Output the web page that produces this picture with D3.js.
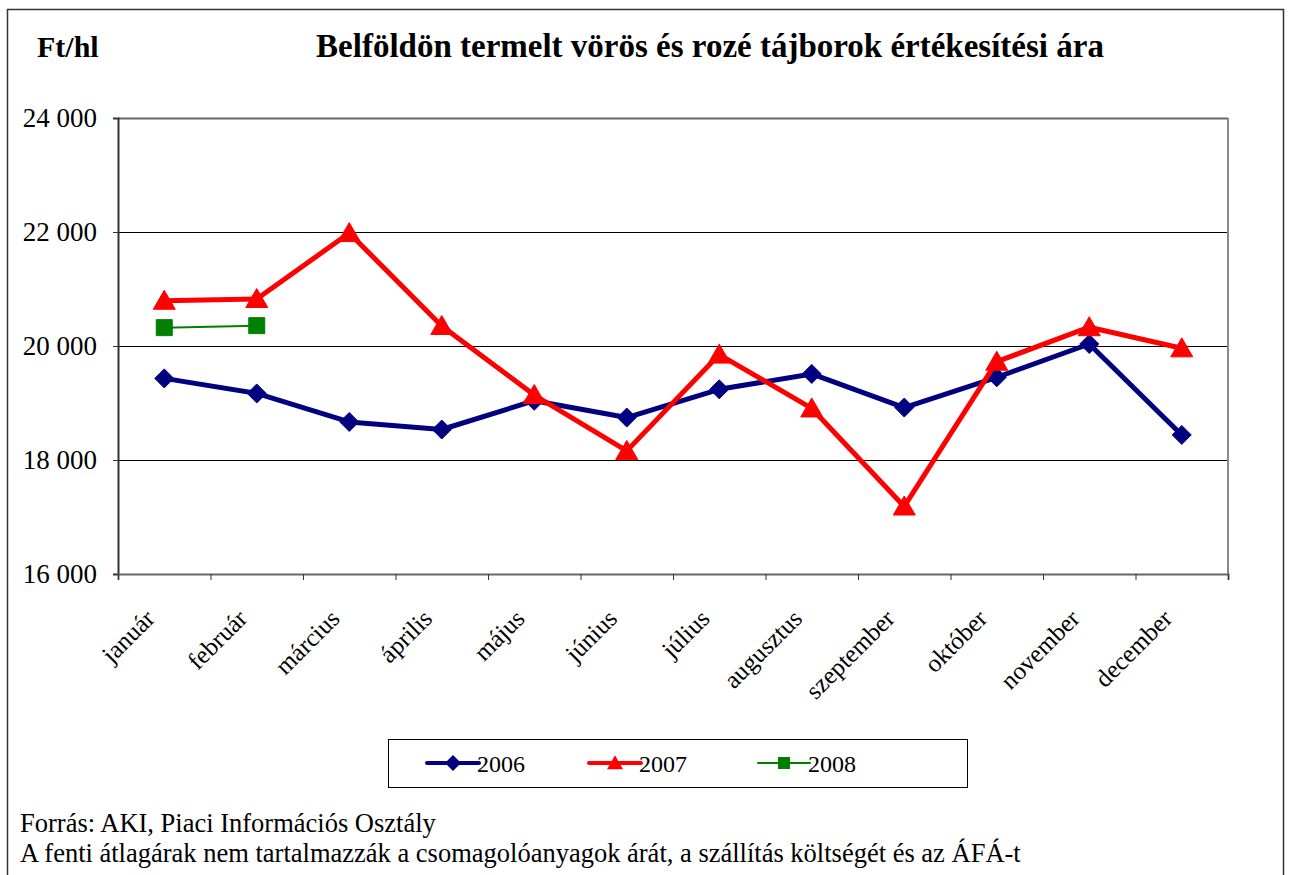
<!DOCTYPE html>
<html>
<head>
<meta charset="utf-8">
<script src="https://cdn.jsdelivr.net/npm/d3@7/dist/d3.min.js"></script>
<style>
  body { margin: 0; background: #fff; }
  text { font-family: "Liberation Serif", "Times New Roman", serif; fill: #000; }
</style>
</head>
<body>
<svg id="chart" width="1289" height="875"></svg>
<script>
// data
var months = ["január", "február", "március", "április", "május", "június",
              "július", "augusztus", "szeptember", "október", "november", "december"];
var years = ["2006", "2007", "2008"];
var v2006 = [19432, 19168, 18668, 18535, 19040, 18745, 19240, 19510, 18920, 19450, 20035, 18440];
var v2007 = [20795, 20825, 21982, 20352, 19140, 18160, 19850, 18905, 17185, 19725, 20330, 19960];
var v2008 = [20322, 20357];
var yTicks = [16000, 18000, 20000, 22000, 24000];

var svg = d3.select("#chart");

// outer frame
svg.append("rect")
  .attr("x", 7.5).attr("y", 9.5)
  .attr("width", 1276).attr("height", 900)
  .attr("fill", "none").attr("stroke", "#333").attr("stroke-width", 1.5);

var plotL = 118, plotR = 1228, plotT = 118, plotB = 574;

var x = d3.scaleBand().domain(months).range([plotL, plotR]);
var xEdge = d3.scaleLinear().domain([0, months.length]).range([plotL, plotR]);
var y = d3.scaleLinear().domain([16000, 24000]).range([plotB, plotT]);

function cx(i) { return x(months[i]) + x.bandwidth() / 2; }

// titles
svg.append("text").attr("x", 37).attr("y", 57)
  .attr("font-size", "30px").attr("font-weight", "bold").text("Ft/hl");
svg.append("text").attr("x", 710).attr("y", 57)
  .attr("text-anchor", "middle")
  .attr("font-size", "33px").attr("font-weight", "bold")
  .text("Belföldön termelt vörös és rozé tájborok értékesítési ára");

// grid lines
svg.append("g").selectAll("line")
  .data(yTicks.slice(1))
  .enter().append("line")
    .attr("x1", plotL).attr("x2", plotR)
    .attr("y1", function(d) { return Math.round(y(d)) + 0.5; })
    .attr("y2", function(d) { return Math.round(y(d)) + 0.5; })
    .attr("stroke", function(d) { return d == 24000 ? "#666" : "#000"; })
    .attr("stroke-width", function(d) { return d == 24000 ? 2 : 1; });

// right border of plot
svg.append("line")
  .attr("x1", plotR).attr("x2", plotR).attr("y1", plotT).attr("y2", plotB)
  .attr("stroke", "#888").attr("stroke-width", 2);

// y axis
var yAxis = svg.append("g")
  .attr("transform", "translate(" + plotL + ",0)")
  .call(d3.axisLeft(y).tickValues(yTicks).tickSize(5).tickPadding(16)
    .tickFormat(function(d) { return d3.format(",")(d).replace(",", "\u00a0"); }));
yAxis.select(".domain").attr("stroke", "#333").attr("stroke-width", 2);
yAxis.selectAll(".tick line").attr("stroke", "#333");
yAxis.selectAll("text").attr("font-size", "27px")
  .attr("font-family", "Liberation Serif, serif").attr("fill", "#000");

// x axis (ticks on category edges)
var xAxis = svg.append("g")
  .attr("transform", "translate(0," + plotB + ")")
  .call(d3.axisBottom(xEdge).tickValues(d3.range(months.length + 1))
    .tickSize(6).tickFormat(""));
xAxis.select(".domain").attr("stroke", "#666").attr("stroke-width", 2);
xAxis.selectAll(".tick line").attr("stroke", "#333");

svg.append("g").selectAll("text")
  .data(months)
  .enter().append("text")
    .attr("text-anchor", "end")
    .attr("font-size", "25px")
    .attr("transform", function(d, i) {
      return "translate(" + (cx(i) - 8) + "," + (plotB + 46) + ") rotate(-45)";
    })
    .text(function(d) { return d; });

// marker shapes
function diamond(r) { return "M0," + (-r) + "L" + r + ",0L0," + r + "L" + (-r) + ",0Z"; }
function triangle(w, h) { return "M0," + (-h * 0.55) + "L" + (w / 2) + "," + (h * 0.45) + "L" + (-w / 2) + "," + (h * 0.45) + "Z"; }
function square(s) { return "M" + (-s / 2) + "," + (-s / 2) + "h" + s + "v" + s + "h" + (-s) + "Z"; }

var series = [
  { name: years[0], values: v2006, color: "#000080", width: 5, marker: diamond(9.5), legMarker: diamond(8) },
  { name: years[1], values: v2007, color: "#ff0000", width: 5, marker: triangle(22, 19), legMarker: triangle(16, 14) },
  { name: years[2], values: v2008, color: "#008000", width: 2, marker: square(16), legMarker: square(12) }
];

var line = d3.line()
  .x(function(d, i) { return cx(i); })
  .y(function(d) { return y(d); });

series.forEach(function(s) {
  var g = svg.append("g");
  g.append("path")
    .attr("d", line(s.values))
    .attr("fill", "none")
    .attr("stroke", s.color)
    .attr("stroke-width", s.width)
    .attr("stroke-linejoin", "round");
  g.selectAll("path.m")
    .data(s.values)
    .enter().append("path")
      .attr("class", "m")
      .attr("d", s.marker)
      .attr("fill", s.color)
      .attr("stroke", s.color)
      .attr("stroke-width", 1)
      .attr("stroke-linejoin", "round")
      .attr("transform", function(d, i) { return "translate(" + cx(i) + "," + y(d) + ")"; });
});

// legend
var leg = svg.append("g");
leg.append("rect")
  .attr("x", 388.5).attr("y", 739.5).attr("width", 579).attr("height", 48)
  .attr("fill", "#fff").attr("stroke", "#000").attr("stroke-width", 1);
var legX = [427, 589, 758];
series.forEach(function(s, i) {
  var g = leg.append("g").attr("transform", "translate(" + legX[i] + ",763)");
  g.append("line").attr("x1", 0).attr("x2", 52).attr("y1", 0).attr("y2", 0)
    .attr("stroke", s.color).attr("stroke-width", s.width == 2 ? 2 : 4)
    .attr("stroke-linecap", "round");
  g.append("path").attr("d", s.legMarker).attr("fill", s.color)
    .attr("transform", "translate(26,0)");
  g.append("text").attr("x", 50).attr("y", 9).attr("font-size", "24px").text(s.name);
});

// footnotes
svg.append("text").attr("x", 20).attr("y", 832).attr("font-size", "26.5px")
  .text("Forrás: AKI, Piaci Információs Osztály");
svg.append("text").attr("x", 20).attr("y", 862).attr("font-size", "26.5px")
  .text("A fenti átlagárak nem tartalmazzák a csomagolóanyagok árát, a szállítás költségét és az ÁFÁ-t");
</script>
</body>
</html>
